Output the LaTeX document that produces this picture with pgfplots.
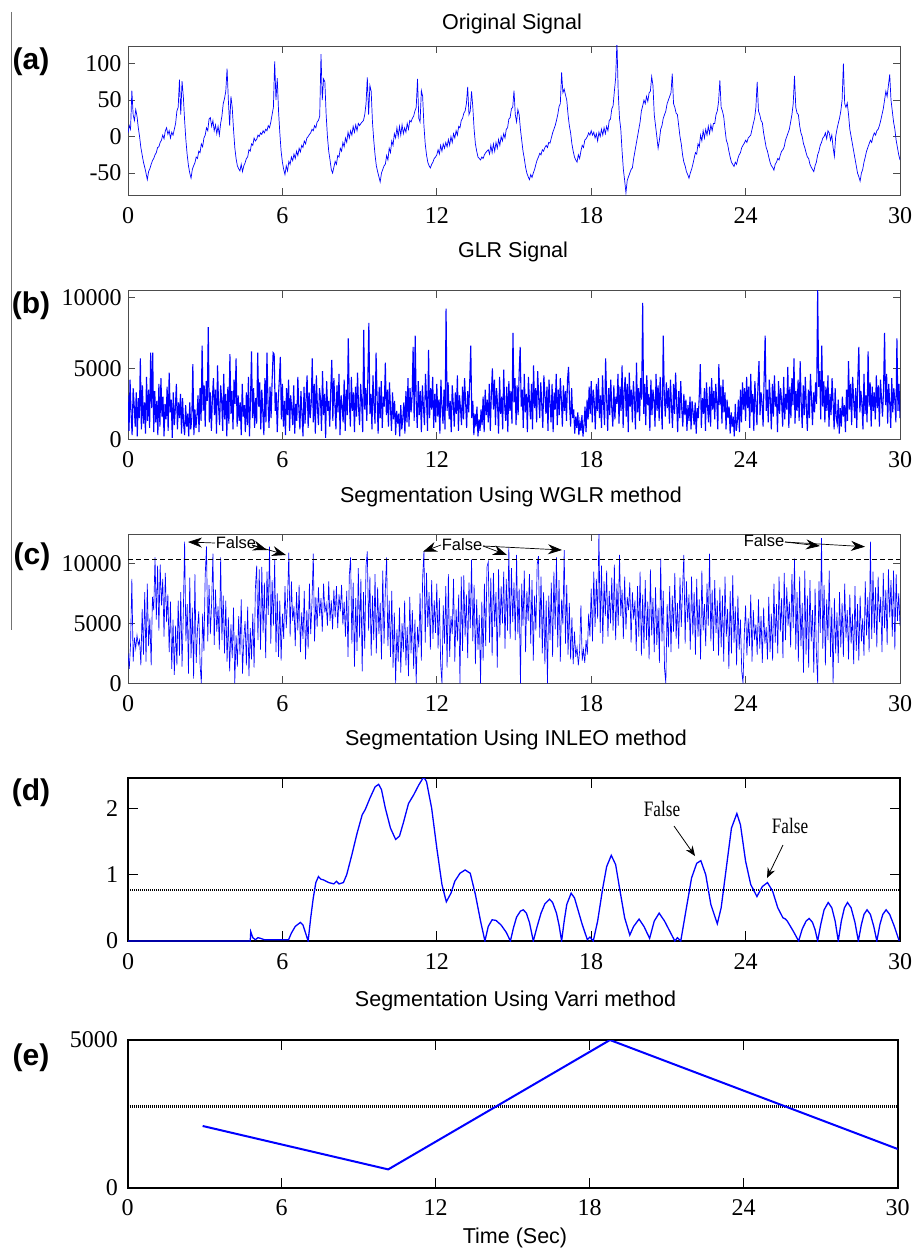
\documentclass[border=0pt]{standalone}
\usepackage{fontspec}
\setmainfont{Liberation Serif}
\setsansfont{Liberation Sans}
\usepackage{pgfplots}
\pgfplotsset{compat=1.18}
\usetikzlibrary{arrows.meta}
\definecolor{sig}{RGB}{0,0,255}
\pgfplotsset{
  panel/.style={
    scale only axis, anchor=south west,
    xmin=0, xmax=30,
    xtick={0,6,12,18,24,30}, xticklabels={0,6,12,18,24,30},
    tick align=inside, major tick length=7pt,
    axis line style={black!70, line width=0.9pt},
    tick style={black!70, line width=0.9pt},
    tick label style={font=\fontsize{24}{24}\selectfont, inner sep=1pt},
    xticklabel style={yshift=-11pt},
    yticklabel style={xshift=-5.3pt},
    scaled ticks=false,
    clip=true,
  },
  panelbold/.style={panel,
    axis line style={black, line width=1.8pt},
    tick style={black, line width=1.2pt},
    yticklabel style={xshift=-3.4pt},
    major tick length=10pt},
}
\begin{document}
\begin{tikzpicture}
\useasboundingbox (0pt,0pt) rectangle (913pt,-1249pt);
\draw[black!55, line width=1pt] (11.5pt,-12pt) -- (11.5pt,-630pt);
% titles
\begin{scope}[every node/.style={font=\sffamily\fontsize{21.5}{21.5}\selectfont, anchor=base, inner sep=0pt}]
\node at (512pt,-29.3pt) {Original Signal};
\node at (513pt,-257.3pt) {GLR Signal};
\node at (511pt,-502pt) {Segmentation Using WGLR method};
\node at (516pt,-745pt) {Segmentation Using INLEO method};
\node at (515.5pt,-1006.5pt) {Segmentation Using Varri method};
\node at (515pt,-1243pt) {Time (Sec)};
\end{scope}
\begin{scope}[every node/.style={font=\sffamily\bfseries\fontsize{30}{30}\selectfont, anchor=center, inner sep=0pt}]
\node at (31pt,-62pt) {(a)};
\node at (31pt,-306pt) {(b)};
\node at (32pt,-557pt) {(c)};
\node at (31pt,-793pt) {(d)};
\node at (31pt,-1058pt) {(e)};
\end{scope}

% (a)
\begin{axis}[panel, at={(128pt,-195pt)}, width=772pt, height=149pt,
  ymin=-80, ymax=124, ytick={-50,0,50,100}, yticklabels={-50,0,50,100}]
\addplot[sig, line width=0.7pt] table[row sep=\\, header=false, x expr=\coordindex*0.05, y index=0] {
5\\15\\10\\63\\30\\22\\37\\28\\12\\0\\-15\\-25\\-35\\-42\\-50\\-59\\-48\\-44\\-38\\-33\\
-30\\-25\\-22\\-15\\-14\\-8\\-5\\2\\-3\\8\\12\\3\\8\\-2\\6\\2\\10\\18\\35\\40\\
78\\30\\76\\55\\22\\-5\\-25\\-40\\-50\\-57\\-45\\-40\\-36\\-28\\-30\\-20\\-22\\-10\\-14\\-2\\
2\\12\\8\\24\\26\\14\\22\\8\\16\\4\\14\\2\\18\\28\\45\\52\\62\\93\\50\\15\\
55\\40\\10\\-15\\-30\\-40\\-44\\-47\\-38\\-48\\-40\\-36\\-30\\-28\\-18\\-20\\-10\\-12\\-2\\-6\\
-4\\2\\0\\5\\3\\8\\5\\10\\8\\15\\12\\20\\30\\40\\103\\50\\80\\35\\5\\-20\\
-35\\-45\\-52\\-40\\-47\\-34\\-38\\-28\\-33\\-24\\-30\\-20\\-26\\-16\\-21\\-12\\-15\\-6\\-10\\-2\\
0\\3\\5\\10\\8\\15\\12\\20\\22\\28\\113\\50\\79\\75\\30\\0\\-20\\-32\\-45\\-50\\
-42\\-34\\-38\\-26\\-28\\-16\\-20\\-8\\-14\\-2\\-8\\6\\-2\\8\\2\\14\\6\\16\\8\\18\\
15\\18\\20\\22\\30\\45\\81\\30\\70\\62\\20\\-5\\-25\\-40\\-48\\-55\\-62\\-50\\-45\\-40\\
-38\\-26\\-32\\-16\\-22\\-6\\-12\\4\\-2\\12\\0\\14\\2\\16\\4\\12\\6\\18\\10\\22\\
20\\25\\28\\35\\40\\79\\25\\20\\63\\55\\15\\-10\\-25\\-35\\-40\\-43\\-38\\-35\\-30\\-28\\
-25\\-18\\-24\\-12\\-20\\-10\\-16\\-8\\-14\\-4\\-12\\0\\-8\\4\\-2\\8\\2\\14\\12\\22\\
25\\32\\35\\45\\68\\30\\35\\62\\40\\10\\-10\\-20\\-28\\-30\\-32\\-28\\-30\\-25\\-22\\-20\\
-18\\-24\\-12\\-22\\-10\\-20\\-8\\-16\\-4\\-12\\0\\-6\\4\\-2\\10\\12\\24\\26\\38\\40\\
63\\30\\20\\37\\30\\10\\-5\\-20\\-30\\-42\\-50\\-55\\-59\\-52\\-56\\-50\\-45\\-38\\-32\\-28\\
-23\\-25\\-18\\-20\\-15\\-12\\-15\\-8\\-9\\-2\\5\\10\\15\\22\\30\\41\\45\\88\\60\\65\\
57\\50\\30\\15\\5\\-10\\-20\\-28\\-32\\-35\\-25\\-30\\-20\\-12\\-15\\-5\\-3\\0\\5\\2\\
8\\2\\6\\-2\\4\\-6\\6\\0\\10\\2\\12\\4\\14\\8\\22\\24\\38\\42\\62\\80\\
130\\60\\25\\10\\-20\\-45\\-60\\-77\\-60\\-55\\-50\\-45\\-43\\-30\\-20\\-10\\0\\10\\20\\35\\
42\\50\\45\\55\\48\\60\\62\\82\\70\\30\\15\\0\\-16\\-5\\10\\15\\25\\30\\35\\45\\
50\\55\\60\\86\\45\\40\\32\\30\\15\\0\\-10\\-25\\-35\\-40\\-48\\-52\\-57\\-50\\-45\\-38\\
-30\\-22\\-24\\-10\\-14\\2\\-6\\8\\-2\\10\\2\\14\\4\\16\\8\\18\\18\\30\\35\\48\\
77\\40\\35\\27\\10\\-5\\-10\\-20\\-28\\-35\\-38\\-41\\-35\\-38\\-30\\-25\\-22\\-15\\-12\\-9\\
-5\\-8\\-2\\0\\2\\10\\18\\25\\40\\75\\35\\30\\22\\19\\5\\-5\\-15\\-20\\-28\\-35\\
-40\\-42\\-46\\-38\\-35\\-30\\-32\\-25\\-20\\-18\\-14\\-5\\0\\5\\10\\20\\30\\45\\83\\40\\
32\\30\\15\\5\\0\\-10\\-15\\-22\\-28\\-30\\-38\\-42\\-45\\-48\\-40\\-35\\-25\\-20\\-12\\-8\\
-2\\0\\5\\-3\\8\\5\\-5\\2\\-15\\-27\\0\\10\\18\\25\\35\\50\\100\\45\\40\\46\\
30\\10\\0\\-10\\-20\\-30\\-40\\-50\\-55\\-61\\-50\\-45\\-35\\-28\\-20\\-15\\-10\\-5\\-8\\0\\
5\\2\\8\\10\\15\\22\\30\\38\\50\\62\\55\\70\\85\\50\\35\\20\\10\\-5\\-15\\-25\\
-32\\
};
\end{axis}

% (b)
\begin{axis}[panel, at={(128pt,-439.3pt)}, width=772pt, height=148.6pt,
  ymin=0, ymax=10465, ytick={0,5000,10000}, yticklabels={0,5000,10000}]
\addplot[sig, line width=1.1pt] table[row sep=\\, header=false, x expr=\coordindex*0.04, y index=0] {
3100\\600\\4200\\1800\\300\\3600\\2400\\900\\3300\\200\\2900\\1500\\5700\\700\\3800\\1100\\2600\\400\\4400\\1300\\3500\\800\\6100\\2200\\6100\\
500\\3400\\1200\\2700\\300\\3900\\900\\4300\\1600\\3000\\200\\2500\\1400\\3700\\600\\4700\\1900\\2800\\100\\3300\\1000\\2200\\3900\\700\\2600\\
1500\\3200\\400\\2900\\1100\\300\\2400\\900\\1800\\200\\2600\\700\\1500\\5300\\300\\2100\\800\\1700\\3100\\500\\3600\\1300\\6600\\2000\\3800\\
900\\4100\\2700\\7900\\1200\\3300\\600\\2900\\4300\\1700\\3500\\400\\5200\\2300\\1000\\3800\\2800\\600\\4600\\1400\\3200\\200\\3700\\1100\\6000\\
1800\\3400\\700\\4200\\2500\\5700\\900\\3100\\1300\\2600\\300\\3900\\1600\\2400\\500\\3300\\1000\\4400\\200\\2700\\6200\\1500\\3600\\800\\2900\\
1100\\6100\\2300\\4000\\700\\3500\\1900\\300\\4300\\1200\\6100\\2600\\800\\3700\\1500\\4100\\6100\\6000\\2000\\3300\\500\\2800\\4200\\5800\\1400\\
3900\\900\\2700\\300\\3600\\1700\\4200\\600\\3100\\2200\\1000\\3800\\400\\2500\\1300\\4400\\2100\\700\\3400\\1800\\200\\3700\\1100\\2900\\4500\\
800\\3300\\1500\\2600\\5700\\1200\\3900\\400\\4500\\2300\\1000\\3600\\2900\\600\\4800\\1700\\3200\\100\\4100\\2000\\2700\\900\\3500\\5600\\1300\\
4300\\2500\\700\\3800\\1900\\4600\\300\\3100\\2400\\1200\\4200\\600\\3500\\1700\\7100\\2800\\900\\4400\\2000\\3300\\500\\3700\\1600\\4700\\2200\\
1000\\3900\\2600\\500\\7700\\2100\\3600\\1300\\4300\\8200\\1800\\3200\\700\\4500\\2400\\1100\\6100\\2900\\400\\3700\\1500\\4100\\800\\3000\\2300\\
5400\\1700\\3500\\900\\4000\\2200\\600\\3300\\1400\\2700\\300\\2000\\1100\\1800\\200\\2400\\700\\1500\\2600\\400\\3400\\1200\\4300\\900\\3600\\
1900\\3000\\6500\\1300\\7300\\2600\\800\\4100\\1700\\3400\\500\\3800\\2300\\1000\\4600\\2900\\600\\6300\\1500\\3600\\2100\\4400\\800\\3200\\1200\\
3900\\1600\\2800\\400\\4200\\2300\\1100\\3500\\700\\9200\\2000\\4000\\1400\\2700\\500\\3800\\2500\\900\\3300\\1800\\4500\\600\\3100\\2200\\1000\\
3700\\1400\\4300\\2600\\800\\3400\\1900\\4100\\6600\\1500\\2700\\300\\1800\\900\\2300\\200\\1400\\600\\2100\\1000\\3000\\500\\3500\\1700\\2800\\
1200\\3900\\600\\3200\\5000\\2100\\4200\\1000\\3600\\2500\\400\\4400\\1800\\3000\\700\\4900\\2300\\1300\\3700\\500\\4100\\2000\\3400\\1100\\7500\\
2600\\4300\\1000\\3800\\1700\\4700\\6500\\2300\\3500\\800\\4600\\1900\\3200\\500\\4400\\2700\\1400\\3900\\700\\5200\\2200\\3600\\1200\\4800\\2900\\
1500\\4000\\2400\\800\\4500\\3100\\1800\\3700\\600\\4200\\2600\\1200\\3900\\500\\3300\\2100\\4600\\1000\\3500\\1700\\4300\\2800\\900\\3800\\2000\\
3400\\1300\\4200\\5100\\2400\\900\\3600\\1500\\2100\\400\\1600\\800\\1900\\300\\1200\\600\\1700\\200\\1000\\2300\\500\\2800\\1400\\3700\\1800\\
4100\\1200\\3500\\2600\\700\\3900\\2000\\4300\\1500\\3100\\800\\4500\\2400\\1000\\5700\\2900\\600\\3600\\1700\\4200\\2200\\900\\3800\\1400\\3000\\
2500\\4600\\1100\\3700\\2000\\5200\\800\\3300\\4400\\1600\\3900\\500\\4700\\2300\\3500\\1200\\4100\\2700\\700\\5400\\1900\\3600\\1300\\4300\\2800\\
9600\\1800\\3900\\1000\\4500\\2400\\3200\\600\\4200\\1700\\3500\\2800\\900\\4600\\2000\\3800\\1300\\4400\\2500\\700\\7300\\3100\\1600\\4000\\2200\\
3600\\1100\\4200\\2300\\800\\3900\\1800\\4700\\2600\\500\\3400\\1500\\4100\\2100\\900\\3200\\1700\\2800\\600\\2400\\1300\\3000\\700\\2700\\1900\\
1000\\2600\\400\\2200\\1500\\3100\\5300\\800\\2900\\1800\\3600\\600\\4000\\2300\\1200\\3700\\900\\4300\\2100\\3400\\1400\\3900\\2600\\700\\5300\\
2400\\3800\\1100\\4200\\1900\\3300\\700\\2800\\1500\\2300\\400\\1900\\900\\1600\\200\\2500\\600\\1300\\2800\\500\\3500\\1200\\4000\\2100\\3600\\
1300\\4400\\2200\\3700\\800\\4600\\1900\\3200\\600\\4100\\2500\\1000\\3800\\5500\\1700\\3300\\2600\\900\\4300\\7300\\2000\\3500\\1200\\4200\\2800\\
700\\3900\\1600\\4500\\2300\\3000\\500\\4100\\1800\\3600\\2700\\900\\4400\\1400\\3200\\2100\\5100\\800\\3700\\1500\\4300\\2400\\5700\\1100\\3400\\
2000\\4200\\1300\\5500\\2600\\800\\3800\\1700\\4400\\2200\\600\\3500\\1500\\4600\\2900\\1000\\3300\\1900\\4000\\2500\\10600\\3700\\4800\\1400\\6600\\
2300\\4100\\1200\\3700\\2000\\4500\\900\\3200\\1700\\4300\\2600\\700\\3600\\1500\\1100\\2800\\400\\2200\\900\\3000\\1600\\2400\\500\\3500\\1300\\
5500\\2100\\3900\\1000\\4400\\2700\\1500\\3600\\800\\4200\\6500\\1900\\3400\\2500\\700\\4600\\1800\\3100\\1200\\6200\\2300\\4000\\900\\3700\\2000\\
3300\\1400\\4500\\2200\\3800\\900\\4200\\2900\\1600\\3500\\7500\\2400\\4600\\1100\\3900\\2600\\800\\4300\\1900\\3600\\2700\\1200\\7100\\2000\\3900\\
1500\\
};
\end{axis}

% (c)
\begin{axis}[panel, at={(128pt,-683.3pt)}, width=772pt, height=149pt,
  ymin=0, ymax=12417, ytick={0,5000,10000}, yticklabels={0,5000,10000}]
\addplot[sig, line width=0.65pt] table[row sep=\\, header=false, x expr=\coordindex*0.05, y index=0] {
2500\\1200\\3300\\8700\\1800\\3800\\2900\\4000\\3200\\3600\\1500\\6200\\2400\\7600\\1800\\8300\\3100\\5400\\1500\\7200\\
6100\\10500\\5300\\9800\\4400\\9900\\6500\\8700\\3900\\9200\\5100\\7400\\2600\\6800\\1200\\5300\\700\\4800\\1500\\6900\\
2300\\7600\\1400\\5900\\11800\\3500\\6600\\800\\8800\\2100\\6300\\400\\9100\\1700\\4500\\6000\\1600\\0\\5800\\2700\\
9000\\11400\\3500\\8200\\4100\\6700\\10800\\3200\\7800\\4300\\6400\\2800\\10500\\3600\\7300\\2500\\6900\\1800\\5500\\1000\\
4900\\2100\\6300\\0\\4000\\1400\\5600\\2400\\7000\\800\\3700\\5200\\1500\\6400\\600\\4600\\2000\\5800\\1300\\7900\\
9800\\3600\\9500\\2800\\9700\\4200\\8400\\2100\\9300\\5700\\11400\\3300\\8600\\4800\\10300\\2600\\7500\\2200\\6900\\1900\\
5800\\3700\\8100\\4600\\7000\\10900\\3900\\8500\\5200\\6400\\3100\\7600\\4400\\8200\\2600\\5900\\3700\\7700\\2000\\6100\\
2900\\8300\\4100\\6800\\10800\\3500\\7200\\4700\\8000\\5600\\7100\\4300\\8300\\5900\\6600\\4800\\8500\\5200\\6900\\4500\\
7800\\5500\\8100\\4600\\7400\\6000\\8200\\4900\\6800\\3900\\7700\\2200\\9000\\10500\\3300\\8400\\1400\\7100\\2700\\9600\\
3800\\8700\\1000\\7600\\2900\\9800\\11000\\4400\\8900\\2300\\7300\\3600\\9100\\2500\\8000\\4100\\6700\\2000\\9400\\3300\\
7800\\10500\\3100\\6900\\2200\\7700\\1300\\5900\\0\\4500\\1800\\6300\\900\\5000\\2600\\6900\\1500\\4700\\600\\7200\\
2500\\6100\\1200\\5300\\0\\4700\\3000\\7500\\1900\\8800\\11000\\3400\\9200\\4700\\7600\\2800\\8600\\3700\\6900\\4200\\
8300\\2900\\7100\\1600\\0\\6500\\3300\\8100\\1300\\9100\\2200\\5600\\4100\\8700\\1800\\6200\\3500\\7400\\0\\8900\\
2700\\9000\\3900\\7400\\2100\\8400\\4600\\10300\\3500\\8200\\1600\\7000\\2800\\5700\\0\\6800\\1900\\8300\\3100\\9700\\
10100\\3400\\8800\\2300\\9200\\4700\\7600\\1300\\9500\\3800\\8100\\5000\\9300\\2900\\8700\\4400\\11300\\3700\\9600\\5100\\
8400\\3600\\10700\\4100\\7900\\0\\8300\\4800\\9400\\2600\\7700\\5200\\9100\\3300\\8600\\1900\\7300\\4400\\9900\\10600\\
3800\\8900\\2500\\7600\\1600\\6900\\0\\7300\\3600\\8400\\2200\\9300\\4500\\10500\\3000\\8600\\1800\\7000\\4900\\11100\\
3300\\8200\\2400\\6700\\2000\\5500\\1600\\4300\\2200\\3000\\1500\\2700\\6500\\1900\\2800\\1700\\3600\\2400\\5800\\3900\\
7900\\3500\\9300\\4700\\8700\\5400\\12600\\4200\\9800\\3300\\8500\\5600\\9400\\3900\\7700\\5000\\8800\\4400\\9900\\3600\\
8300\\4800\\10700\\5600\\7800\\3700\\8900\\4500\\7200\\6100\\8400\\3400\\7600\\5300\\6900\\2700\\8100\\3900\\9300\\2300\\
7400\\2900\\8600\\3600\\6800\\2000\\9500\\4000\\7100\\2600\\8000\\3200\\6300\\1700\\10400\\3500\\7700\\1200\\0\\6600\\
3000\\8100\\2600\\7300\\4300\\9200\\3700\\6700\\2900\\8800\\4700\\7900\\10700\\3300\\8500\\5100\\7400\\2800\\8900\\4000\\
7600\\2400\\8700\\3900\\7000\\2000\\9400\\4400\\6600\\3100\\8300\\4800\\10800\\3500\\7800\\2700\\8600\\4200\\6900\\2300\\
8000\\3000\\7300\\1800\\8900\\3900\\6200\\1200\\7700\\2500\\9000\\3400\\6400\\1500\\7300\\2800\\5300\\1000\\0\\4100\\
6500\\2300\\5400\\3100\\7400\\1800\\6100\\3600\\4900\\2400\\7000\\2900\\5600\\1700\\6300\\3300\\4700\\2000\\7200\\2600\\
5800\\1900\\8300\\3400\\6600\\2500\\8900\\4300\\7100\\2100\\9200\\3600\\8000\\4800\\6800\\3000\\9100\\4600\\10400\\2800\\
7600\\1800\\8900\\3100\\6700\\900\\9400\\2400\\7300\\1300\\8600\\3500\\6100\\900\\7900\\2600\\0\\8500\\4200\\12100\\
2900\\8200\\1500\\7000\\3600\\9400\\2200\\6300\\0\\7100\\2500\\5900\\1700\\7600\\3000\\6700\\2200\\8300\\3800\\6100\\
2000\\7400\\3300\\5800\\1600\\8100\\2700\\6600\\1900\\7300\\3500\\5400\\2300\\8500\\4000\\7200\\2600\\11800\\3700\\9300\\
4200\\8000\\3000\\8900\\5100\\7200\\2600\\9200\\4600\\7800\\3200\\9500\\5500\\8600\\3900\\9400\\2800\\9100\\5200\\7500\\
4800\\
};
\addplot[black, line width=0.8pt, dash pattern=on 5pt off 3pt] coordinates {(0,10350) (30,10350)};
\end{axis}

% (d)
\begin{axis}[panelbold, at={(128pt,-941pt)}, width=772pt, height=162.7pt,
  ymin=0, ymax=2.45, ytick={0,1,2}, yticklabels={0,1,2}]
\addplot[black, line width=2.2pt, dash pattern=on 1pt off 1pt] coordinates {(0,0.77) (30,0.77)};
\addplot[sig, line width=1.3pt] coordinates {
(0,0) (4.75,0) (4.77,0.14) (4.85,0.05) (4.95,0.02) (5.05,0.05) (5.15,0.04) (5.3,0.02) (6.24,0.02)
(6.35,0.12) (6.5,0.22) (6.7,0.28) (6.8,0.24) (6.9,0.12) (7.0,0)
(7.1,0.35) (7.2,0.65) (7.3,0.88) (7.4,0.97) (7.5,0.93) (7.6,0.92) (7.8,0.88) (8.0,0.86) (8.1,0.9) (8.2,0.86) (8.37,0.88)
(8.5,1.0) (8.7,1.3) (8.9,1.62) (9.1,1.9) (9.22,1.98) (9.4,2.15) (9.6,2.32) (9.74,2.36) (9.85,2.28) (10.0,2.0) (10.2,1.7)
(10.4,1.53) (10.55,1.58) (10.7,1.78) (10.9,2.07) (11.1,2.2) (11.3,2.35) (11.49,2.47) (11.6,2.4) (11.8,2.0) (12.0,1.4)
(12.2,0.85) (12.37,0.59) (12.55,0.72) (12.7,0.9) (12.9,1.02) (13.1,1.07) (13.3,1.02) (13.5,0.7) (13.7,0.3) (13.87,0)
(14.0,0.22) (14.15,0.32) (14.3,0.31) (14.5,0.24) (14.7,0.13) (14.86,0)
(14.98,0.2) (15.1,0.36) (15.25,0.45) (15.36,0.47) (15.48,0.42) (15.6,0.28) (15.75,0)
(15.9,0.22) (16.05,0.42) (16.2,0.56) (16.38,0.63) (16.5,0.58) (16.65,0.42) (16.75,0.24) (16.85,0)
(16.95,0.3) (17.05,0.55) (17.22,0.72) (17.35,0.65) (17.5,0.45) (17.65,0.25) (17.85,0.02) (17.95,0.06) (18.08,0)
(18.25,0.3) (18.45,0.8) (18.6,1.12) (18.78,1.29) (18.95,1.15) (19.1,0.8) (19.3,0.35) (19.5,0.09)
(19.65,0.22) (19.86,0.33) (20.05,0.22) (20.27,0.04) (20.45,0.3) (20.64,0.42) (20.85,0.3) (21.05,0.15) (21.25,0) (21.35,0.05) (21.48,0)
(21.7,0.5) (21.9,0.95) (22.1,1.17) (22.26,1.21) (22.45,1.0) (22.65,0.55) (22.9,0.26) (23.05,0.5) (23.25,1.1) (23.45,1.7)
(23.66,1.92) (23.8,1.75) (24.0,1.2) (24.2,0.85) (24.44,0.67) (24.65,0.82) (24.85,0.88) (25.05,0.75) (25.25,0.5) (25.45,0.35)
(25.55,0.33) (25.62,0.3) (25.85,0.15) (26.06,0)
(26.2,0.18) (26.35,0.3) (26.47,0.34) (26.6,0.28) (26.7,0.17) (26.8,0)
(26.92,0.25) (27.05,0.47) (27.21,0.58) (27.35,0.5) (27.48,0.3) (27.6,0)
(27.72,0.3) (27.84,0.5) (27.96,0.58) (28.1,0.5) (28.25,0.28) (28.38,0)
(28.5,0.25) (28.6,0.4) (28.72,0.47) (28.85,0.4) (28.98,0.22) (29.1,0)
(29.22,0.25) (29.33,0.4) (29.46,0.47) (29.6,0.4) (29.78,0.22) (29.97,0)
};
\end{axis}

% (e)
\begin{axis}[panelbold, at={(127.7pt,-1187.7pt)}, width=770pt, height=147.7pt,
  ymin=0, ymax=5000, ytick={0,5000}, yticklabels={0,5000}]
\addplot[black, line width=2.2pt, dash pattern=on 1pt off 1pt] coordinates {(0,2750) (30,2750)};
\addplot[sig, line width=2pt] coordinates {(2.92,2090) (10.15,620) (18.79,5000) (30,1310)};
\end{axis}

% annotations (c)
\begin{scope}[every node/.style={font=\sffamily\fontsize{16.5}{16.5}\selectfont, inner sep=0pt, anchor=center},
  arr/.style={black, line width=0.7pt, -{Stealth[length=14pt,width=10pt]}}]
\node at (236pt,-543pt) {False};
\draw[arr] (215pt,-543pt) -- (188pt,-542pt);
\draw[arr] (252pt,-545pt) -- (267pt,-550pt);
\draw[arr] (252pt,-545pt) -- (286pt,-555pt);
\node at (462pt,-545pt) {False};
\draw[arr] (441pt,-545pt) -- (423pt,-551.7pt);
\draw[arr] (483pt,-546pt) -- (507pt,-555pt);
\draw[arr] (483pt,-546pt) -- (562pt,-550pt);
\node at (764pt,-541pt) {False};
\draw[arr] (785pt,-542pt) -- (820pt,-546pt);
\draw[arr] (785pt,-542pt) -- (865pt,-546.7pt);
\end{scope}
% annotations (d)
\begin{scope}[every node/.style={font=\fontsize{22}{22}\selectfont, inner sep=0pt, anchor=base, xscale=0.78},
  arr/.style={black, line width=0.8pt, -{Stealth[length=10pt,width=8pt]}}]
\node at (662pt,-816.7pt) {False};
\draw[arr] (674pt,-826pt) -- (695pt,-856pt);
\node at (790pt,-833.3pt) {False};
\draw[arr] (783pt,-845pt) -- (767pt,-878pt);
\end{scope}
\end{tikzpicture}
\end{document}
